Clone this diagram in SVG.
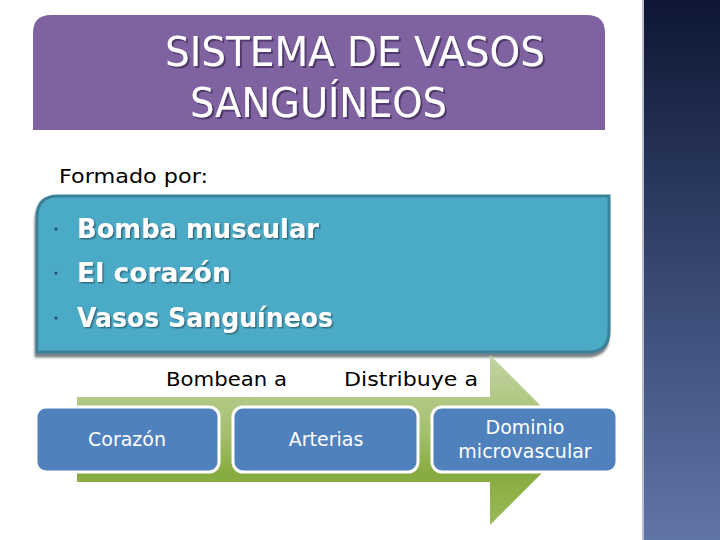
<svg xmlns="http://www.w3.org/2000/svg" width="720" height="540" viewBox="0 0 720 540">
  <defs>
    <linearGradient id="side" x1="0" y1="0" x2="0" y2="1">
      <stop offset="0" stop-color="#0D1733"/>
      <stop offset="0.5" stop-color="#364670"/>
      <stop offset="1" stop-color="#6174A6"/>
    </linearGradient>
    <linearGradient id="arrowG" x1="0" y1="355" x2="0" y2="525" gradientUnits="userSpaceOnUse">
      <stop offset="0" stop-color="#C3D4A3"/>
      <stop offset="0.45" stop-color="#A5C06F"/>
      <stop offset="0.7" stop-color="#86AB3F"/>
      <stop offset="1" stop-color="#9BBB59"/>
    </linearGradient>
    <filter id="tshadow" x="-10%" y="-20%" width="120%" height="150%">
      <feDropShadow dx="2" dy="2" stdDeviation="0.6" flood-color="#3B2A55" flood-opacity="0.7"/>
    </filter>
    <filter id="ishadow" x="-10%" y="-20%" width="120%" height="150%">
      <feDropShadow dx="1.5" dy="1.5" stdDeviation="0.5" flood-color="#2A5E70" flood-opacity="0.8"/>
    </filter>
    <filter id="bshadow" x="-5%" y="-5%" width="110%" height="115%">
      <feDropShadow dx="-1" dy="4" stdDeviation="1" flood-color="#6A7478" flood-opacity="0.9"/>
    </filter>
    <style>
      .title { font-family: "DejaVu Sans", "Open Sans", sans-serif; font-size: 40px; fill: #FFFFFF; }
      .label { font-family: "DejaVu Sans", "Open Sans", sans-serif; font-size: 19px; fill: #000000; }
      .item { font-family: "DejaVu Sans", "Open Sans", sans-serif; font-size: 26px; font-weight: bold; fill: #FFFFFF; }
      .box { fill: #4F81BD; stroke: #FFFFFF; stroke-width: 3; }
      .boxtext { font-family: "DejaVu Sans", "Open Sans", sans-serif; font-size: 19px; fill: #FFFFFF; text-anchor: middle; }
      .bullet { fill: #1F4E79; }
    </style>
  </defs>

  <rect width="720" height="540" fill="#FFFFFF"/>

  <g id="sidebar">
    <rect x="642" y="0" width="78" height="540" fill="url(#side)"/>
    <rect x="642" y="0" width="2" height="540" fill="#B8C0D0"/>
  </g>

  <g id="title">
    <path d="M33,130 L33,33 Q33,15 51,15 L587,15 Q605,15 605,33 L605,130 Z" fill="#7F63A1"/>
    <g filter="url(#tshadow)">
      <text class="title" x="165" y="66" textLength="380" lengthAdjust="spacingAndGlyphs">SISTEMA DE VASOS</text>
      <text class="title" x="190" y="117" textLength="257" lengthAdjust="spacingAndGlyphs">SANGUÍNEOS</text>
    </g>
  </g>

  <g id="formado">
    <text class="label" x="59" y="183" textLength="149" lengthAdjust="spacingAndGlyphs">Formado por:</text>
  </g>

  <g id="components">
    <path d="M37,352 L37,217 Q37,196 58,196 L609,196 L609,331 Q609,352 588,352 Z" fill="#4BAAC6" stroke="#3B8299" stroke-width="3" filter="url(#bshadow)"/>
    <circle class="bullet" cx="56" cy="229" r="1.6"/>
    <circle class="bullet" cx="56" cy="273" r="1.6"/>
    <circle class="bullet" cx="56" cy="318" r="1.6"/>
    <g filter="url(#ishadow)">
      <text class="item" x="77" y="238" textLength="242" lengthAdjust="spacingAndGlyphs">Bomba muscular</text>
      <text class="item" x="77" y="282" textLength="154" lengthAdjust="spacingAndGlyphs">El corazón</text>
      <text class="item" x="77" y="327" textLength="256" lengthAdjust="spacingAndGlyphs">Vasos Sanguíneos</text>
    </g>
  </g>

  <g id="connectors">
    <path id="flow-arrow" d="M77,397 L490,397 L490,355 L575,440 L490,525 L490,482 L77,482 Z" fill="url(#arrowG)"/>
    <text class="label" x="166" y="386" textLength="121" lengthAdjust="spacingAndGlyphs">Bombean a</text>
    <text class="label" x="344" y="386" textLength="134" lengthAdjust="spacingAndGlyphs">Distribuye a</text>
  </g>

  <g id="corazon">
    <rect class="box" x="36" y="407" width="183" height="65" rx="10"/>
    <text class="boxtext" x="127" y="446">Corazón</text>
  </g>

  <g id="arterias">
    <rect class="box" x="233" y="407" width="185" height="65" rx="10"/>
    <text class="boxtext" x="326" y="446">Arterias</text>
  </g>

  <g id="dominio">
    <rect class="box" x="432" y="407" width="185" height="65" rx="10"/>
    <text class="boxtext" x="525" y="434">Dominio</text>
    <text class="boxtext" x="525" y="458">microvascular</text>
  </g>
</svg>
